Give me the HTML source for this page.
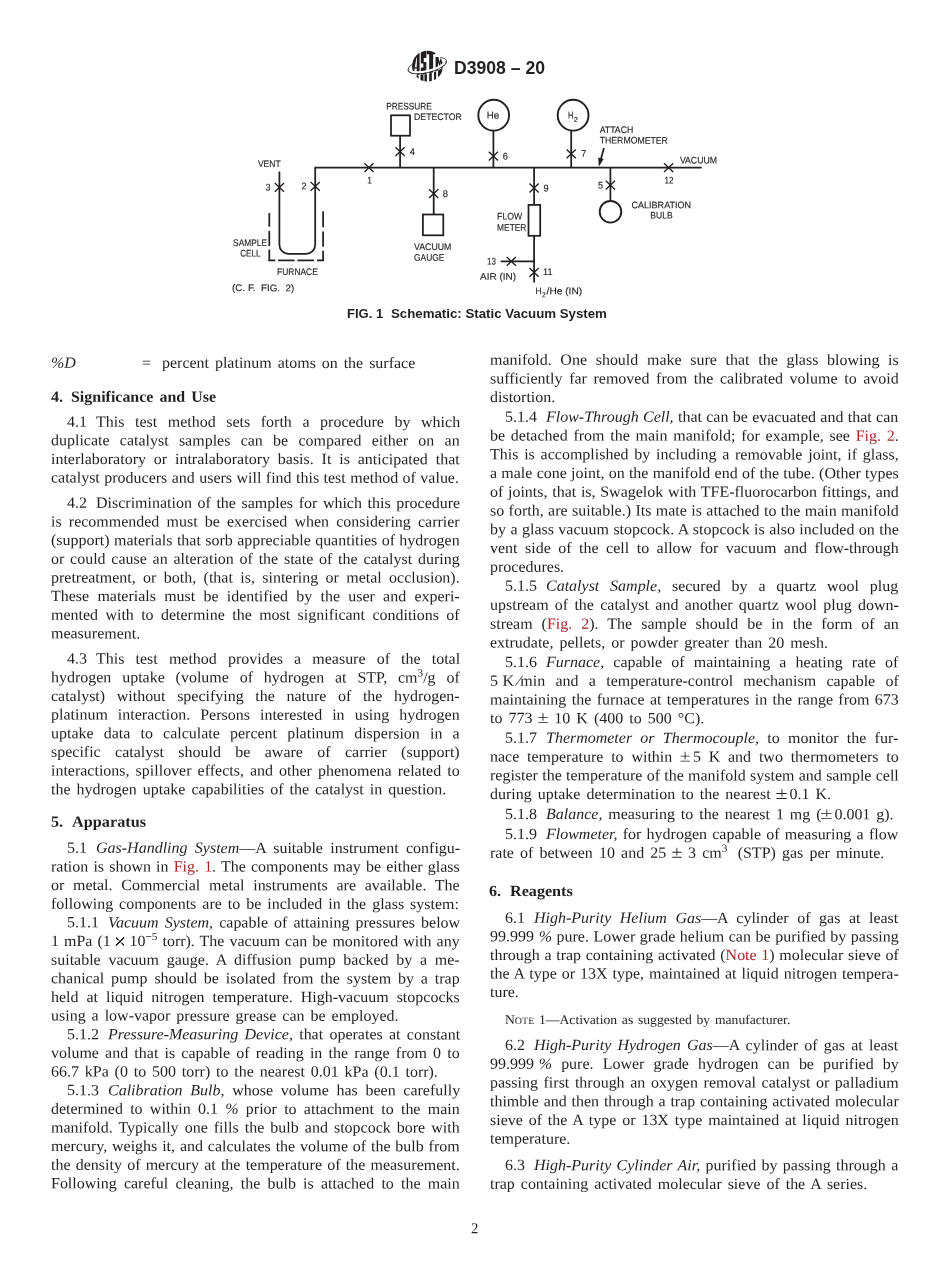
<!DOCTYPE html>
<html lang="en"><head><meta charset="utf-8"><title>D3908 - 20</title>
<style>
html,body{margin:0;padding:0;background:#fff;}
body{width:950px;height:1272px;position:relative;overflow:hidden;font-family:"Liberation Serif",serif;color:#231f20;}
.l{position:absolute;height:20px;line-height:20px;font-size:15.52px;white-space:nowrap;text-align:justify;text-align-last:justify;transform-origin:0 0;}
.l.nj{text-align:left;text-align-last:left;}
.l.b{font-weight:bold;}
.l.note{font-size:13.25px;}
.sc{font-size:9.7px;}
.r{color:#a4262c;}
.sup{font-size:10.9px;position:relative;top:-5.9px;line-height:0;}
.sp{display:inline-block;height:1px;}
.fs{margin:0 0 0 3.5px;}
.tm{display:inline-block;overflow:hidden;width:8.4px;height:8.4px;font-size:0;vertical-align:0.3px;background:linear-gradient(45deg,transparent calc(50% - 0.5px),#231f20 calc(50% - 0.5px),#231f20 calc(50% + 0.5px),transparent calc(50% + 0.5px)),linear-gradient(-45deg,transparent calc(50% - 0.5px),#231f20 calc(50% - 0.5px),#231f20 calc(50% + 0.5px),transparent calc(50% + 0.5px));}
.pm{display:inline-block;overflow:hidden;width:9.3px;height:9.7px;font-size:0;vertical-align:baseline;background:linear-gradient(#231f20,#231f20) 0 3.8px/100% 0.9px no-repeat,linear-gradient(#231f20,#231f20) 4.2px 0/0.9px 7.6px no-repeat,linear-gradient(#231f20,#231f20) 0 8.7px/100% 0.9px no-repeat;}
i{font-style:italic;}
#pg{position:absolute;left:0;top:0;width:950px;height:1272px;will-change:transform;}
svg{position:absolute;left:0;top:0;}
svg text{font-family:"Liberation Sans",sans-serif;fill:#231f20;}
.hd{position:absolute;font-family:"Liberation Sans",sans-serif;font-weight:bold;color:#231f20;white-space:nowrap;}
</style></head>
<body>
<div id="pg">
<svg width="950" height="1272" viewBox="0 0 950 1272">
<g fill="none" stroke="#231f20" stroke-width="1.75" stroke-linecap="butt">
<path d="M314.5,167.7 H701.7"/>
<path d="M315.2,167.7 V244.8 a9,9 0 0 1 -9,9 H288.4 a9,9 0 0 1 -9,-9 V171.4"/>
<path d="M400.1,167.7 V135.7"/><rect x="391" y="115.3" width="19" height="20.4"/>
<path d="M433.7,167.7 V214.5"/><rect x="422.9" y="214.5" width="20.4" height="20.8"/>
<path d="M493.4,167.7 V130.7"/><circle cx="493.7" cy="115.2" r="15.4" stroke-width="1.9"/>
<path d="M571.2,167.7 V130.5"/><circle cx="573.1" cy="115.2" r="15.4" stroke-width="1.9"/>
<path d="M534.1,167.7 V204.9 M534.1,235.8 V282.6"/><rect x="528.5" y="204.9" width="11.7" height="30.9"/>
<path d="M500.7,261.4 H534.1"/>
<path d="M610.4,167.7 V200.5"/><circle cx="610.5" cy="211.8" r="10.8" stroke-width="1.9"/>
<path d="M269.3,213.1 V226.7"/><path d="M269.3,230.8 V246.1"/><path d="M269.3,249.6 V261"/><path d="M323.1,211.3 V227.2"/><path d="M323.1,231.4 V246.7"/><path d="M323.1,250.8 V261"/><path d="M268.6,260.4 H275.3"/><path d="M278.1,260.4 H294.6"/><path d="M297.5,260.4 H314"/><path d="M317,260.4 H323.8"/>
<path d="M603.9,148.1 L600.4,161"/>
</g>
<path d="M598.8,166.8 L598.2,157.6 L603.6,159.1 Z" fill="#231f20"/>
<g fill="none" stroke="#231f20" stroke-width="1.35">
<path d="M274.8,182.9 L284,191.7 M274.8,191.7 L284,182.9"/><path d="M310.6,181.9 L319.8,190.7 M310.6,190.7 L319.8,181.9"/><path d="M364.4,163.3 L373.6,172.1 M364.4,172.1 L373.6,163.3"/><path d="M395.5,147.2 L404.7,156 M395.5,156 L404.7,147.2"/><path d="M429.1,189.2 L438.3,198 M429.1,198 L438.3,189.2"/><path d="M488.8,151.8 L498,160.6 M488.8,160.6 L498,151.8"/><path d="M566.6,149.5 L575.8,158.3 M566.6,158.3 L575.8,149.5"/><path d="M529.5,183.6 L538.7,192.4 M529.5,192.4 L538.7,183.6"/><path d="M605.8,180.8 L615,189.6 M605.8,189.6 L615,180.8"/><path d="M664,163.3 L673.2,172.1 M664,172.1 L673.2,163.3"/><path d="M506.7,257 L515.9,265.8 M506.7,265.8 L515.9,257"/><path d="M529.5,267.9 L538.7,276.7 M529.5,276.7 L538.7,267.9"/>
</g>
<text xml:space="preserve" x="386.2" y="109.5" transform="rotate(0.05 386.2 109.5)" font-size="9.55" textLength="45.6" lengthAdjust="spacingAndGlyphs" stroke="#231f20" stroke-width="0.15">PRESSURE</text>
<text xml:space="preserve" x="414.1" y="119.9" transform="rotate(0.05 414.1 119.9)" font-size="9.55" textLength="47.6" lengthAdjust="spacingAndGlyphs" stroke="#231f20" stroke-width="0.15">DETECTOR</text>
<text xml:space="preserve" x="257.9" y="167.1" transform="rotate(0.05 257.9 167.1)" font-size="9.55" textLength="22.7" lengthAdjust="spacingAndGlyphs" stroke="#231f20" stroke-width="0.15">VENT</text>
<text xml:space="preserve" x="265.5" y="190.6" transform="rotate(0.05 265.5 190.6)" font-size="9.55" textLength="5" lengthAdjust="spacingAndGlyphs" stroke="#231f20" stroke-width="0.15">3</text>
<text xml:space="preserve" x="301.4" y="189.3" transform="rotate(0.05 301.4 189.3)" font-size="9.55" textLength="5" lengthAdjust="spacingAndGlyphs" stroke="#231f20" stroke-width="0.15">2</text>
<text xml:space="preserve" x="367.3" y="183.5" transform="rotate(0.05 367.3 183.5)" font-size="9.55" textLength="4.7" lengthAdjust="spacingAndGlyphs" stroke="#231f20" stroke-width="0.15">1</text>
<text xml:space="preserve" x="409.8" y="154.9" transform="rotate(0.05 409.8 154.9)" font-size="9.55" textLength="5.2" lengthAdjust="spacingAndGlyphs" stroke="#231f20" stroke-width="0.15">4</text>
<text xml:space="preserve" x="442.8" y="196.9" transform="rotate(0.05 442.8 196.9)" font-size="9.55" textLength="5.2" lengthAdjust="spacingAndGlyphs" stroke="#231f20" stroke-width="0.15">8</text>
<text xml:space="preserve" x="233.1" y="246.1" transform="rotate(0.05 233.1 246.1)" font-size="9.55" textLength="33.9" lengthAdjust="spacingAndGlyphs" stroke="#231f20" stroke-width="0.15">SAMPLE</text>
<text xml:space="preserve" x="240.2" y="256.4" transform="rotate(0.05 240.2 256.4)" font-size="9.55" textLength="20.2" lengthAdjust="spacingAndGlyphs" stroke="#231f20" stroke-width="0.15">CELL</text>
<text xml:space="preserve" x="277.1" y="275.1" transform="rotate(0.05 277.1 275.1)" font-size="9.55" textLength="40.7" lengthAdjust="spacingAndGlyphs" stroke="#231f20" stroke-width="0.15">FURNACE</text>
<text xml:space="preserve" x="232.1" y="291.1" transform="rotate(0.05 232.1 291.1)" font-size="9.55" textLength="62.2" lengthAdjust="spacingAndGlyphs" stroke="#231f20" stroke-width="0.15">(C. F.  FIG.  2)</text>
<text xml:space="preserve" x="414" y="250.1" transform="rotate(0.05 414 250.1)" font-size="9.55" textLength="37.4" lengthAdjust="spacingAndGlyphs" stroke="#231f20" stroke-width="0.15">VACUUM</text>
<text xml:space="preserve" x="414" y="260.7" transform="rotate(0.05 414 260.7)" font-size="9.55" textLength="30.4" lengthAdjust="spacingAndGlyphs" stroke="#231f20" stroke-width="0.15">GAUGE</text>
<text xml:space="preserve" x="486.8" y="118.6" transform="rotate(0.05 486.8 118.6)" font-size="9.7" textLength="12.4" lengthAdjust="spacingAndGlyphs" stroke="#231f20" stroke-width="0.15">He</text>
<text xml:space="preserve" x="568.1" y="118.6" transform="rotate(0.05 568.1 118.6)" font-size="9.7" textLength="5.3" lengthAdjust="spacingAndGlyphs" stroke="#231f20" stroke-width="0.15">H</text>
<text xml:space="preserve" x="573.7" y="122.1" transform="rotate(0.05 573.7 122.1)" font-size="7.3" textLength="4.2" lengthAdjust="spacingAndGlyphs" stroke="#231f20" stroke-width="0.15">2</text>
<text xml:space="preserve" x="502.8" y="159.5" transform="rotate(0.05 502.8 159.5)" font-size="9.55" textLength="5.1" lengthAdjust="spacingAndGlyphs" stroke="#231f20" stroke-width="0.15">6</text>
<text xml:space="preserve" x="581.2" y="156.8" transform="rotate(0.05 581.2 156.8)" font-size="9.55" textLength="5" lengthAdjust="spacingAndGlyphs" stroke="#231f20" stroke-width="0.15">7</text>
<text xml:space="preserve" x="599.7" y="133" transform="rotate(0.05 599.7 133)" font-size="9.55" textLength="33.6" lengthAdjust="spacingAndGlyphs" stroke="#231f20" stroke-width="0.15">ATTACH</text>
<text xml:space="preserve" x="599.7" y="143.6" transform="rotate(0.05 599.7 143.6)" font-size="9.55" textLength="68.2" lengthAdjust="spacingAndGlyphs" stroke="#231f20" stroke-width="0.15">THERMOMETER</text>
<text xml:space="preserve" x="679.9" y="163.5" transform="rotate(0.05 679.9 163.5)" font-size="9.55" textLength="37.1" lengthAdjust="spacingAndGlyphs" stroke="#231f20" stroke-width="0.15">VACUUM</text>
<text xml:space="preserve" x="664.5" y="183.6" transform="rotate(0.05 664.5 183.6)" font-size="9.55" textLength="9" lengthAdjust="spacingAndGlyphs" stroke="#231f20" stroke-width="0.15">12</text>
<text xml:space="preserve" x="597.9" y="188.5" transform="rotate(0.05 597.9 188.5)" font-size="9.55" textLength="5.1" lengthAdjust="spacingAndGlyphs" stroke="#231f20" stroke-width="0.15">5</text>
<text xml:space="preserve" x="543.6" y="191.4" transform="rotate(0.05 543.6 191.4)" font-size="9.55" textLength="5.1" lengthAdjust="spacingAndGlyphs" stroke="#231f20" stroke-width="0.15">9</text>
<text xml:space="preserve" x="497.1" y="219.4" transform="rotate(0.05 497.1 219.4)" font-size="9.55" textLength="25" lengthAdjust="spacingAndGlyphs" stroke="#231f20" stroke-width="0.15">FLOW</text>
<text xml:space="preserve" x="497.1" y="230.7" transform="rotate(0.05 497.1 230.7)" font-size="9.55" textLength="29.3" lengthAdjust="spacingAndGlyphs" stroke="#231f20" stroke-width="0.15">METER</text>
<text xml:space="preserve" x="631.5" y="208.3" transform="rotate(0.05 631.5 208.3)" font-size="9.55" textLength="59.6" lengthAdjust="spacingAndGlyphs" stroke="#231f20" stroke-width="0.15">CALIBRATION</text>
<text xml:space="preserve" x="650.3" y="218.6" transform="rotate(0.05 650.3 218.6)" font-size="9.55" textLength="22.3" lengthAdjust="spacingAndGlyphs" stroke="#231f20" stroke-width="0.15">BULB</text>
<text xml:space="preserve" x="487.1" y="264.4" transform="rotate(0.05 487.1 264.4)" font-size="9.55" textLength="8.9" lengthAdjust="spacingAndGlyphs" stroke="#231f20" stroke-width="0.15">13</text>
<text xml:space="preserve" x="543.1" y="275.1" transform="rotate(0.05 543.1 275.1)" font-size="9.55" textLength="9.4" lengthAdjust="spacingAndGlyphs" stroke="#231f20" stroke-width="0.15">11</text>
<text xml:space="preserve" x="480" y="279.7" transform="rotate(0.05 480 279.7)" font-size="9.55" textLength="36" lengthAdjust="spacingAndGlyphs" stroke="#231f20" stroke-width="0.15">AIR (IN)</text>
<text xml:space="preserve" x="535.4" y="294.3" transform="rotate(0.05 535.4 294.3)" font-size="9.55" textLength="6.1" lengthAdjust="spacingAndGlyphs" stroke="#231f20" stroke-width="0.15">H</text>
<text xml:space="preserve" x="542.1" y="297.2" transform="rotate(0.05 542.1 297.2)" font-size="7.3" textLength="3.7" lengthAdjust="spacingAndGlyphs" stroke="#231f20" stroke-width="0.15">2</text>
<text xml:space="preserve" x="546.6" y="294.3" transform="rotate(0.05 546.6 294.3)" font-size="9.55" textLength="35.5" lengthAdjust="spacingAndGlyphs" stroke="#231f20" stroke-width="0.15">/He (IN)</text>
<g id="astm" transform="translate(404,48) scale(0.048421)">
<defs><clipPath id="gc"><circle cx="485" cy="375" r="318"/></clipPath></defs>
<g transform="rotate(-13.7 480 362)"><ellipse cx="480" cy="362" rx="408" ry="146" fill="none" stroke="#231f20" stroke-width="15"/></g>
<circle cx="485" cy="375" r="322" fill="#fff"/>
<g clip-path="url(#gc)" fill="#231f20">
<path d="M150,40 H322 V560 H150 Z M256,200 H268 L262,395 H224 Z M219,425 H262 V560 H208 Z" fill-rule="evenodd"/>
<path d="M347,40 H462 V205 H408 V290 H462 V560 H347 V405 H399 V320 H347 Z"/>
<path d="M470,40 H648 V128 H602 V560 H520 V128 H470 Z"/>
<path d="M652,185 H710 L736,292 L760,185 H850 V560 H764 V285 L746,368 H726 L702,285 V560 H652 Z"/>
</g>
<g transform="rotate(-13.7 480 362)"><path d="M848,392 A408,146 0 0 1 112,392" fill="none" stroke="#fff" stroke-width="46"/></g>
<g clip-path="url(#gc)">
<path d="M120,760 L120,521.666 L140,531.475 L160,538.505 L180,543.651 L200,547.441 L220,550.165 L240,552.03 L260,553.141 L280,553.61 L300,553.486 L320,552.824 L340,551.674 L360,550.027 L380,547.966 L400,545.54 L420,542.696 L440,539.44 L460,535.781 L480,531.728 L500,527.292 L520,522.483 L540,517.315 L560,511.8 L580,505.745 L600,499.351 L620,492.635 L640,485.377 L660,477.568 L680,469.203 L700,460.283 L720,450.812 L740,440.522 L760,429.412 L780,417.204 L800,403.321 L820,388.098 L840,369.837 L860,346.128 L860,760 Z" fill="#fff"/>
<g fill="#231f20">
<path d="M258,563.071 L300,563.486 V720 H258 Z"/>
<path d="M340,556.674 L402,550.266 V720 H340 Z"/>
<path d="M422,547.378 L474,537.885 V720 H422 Z"/>
<path d="M520,527.483 L574,512.598 V720 H520 Z"/>
<path d="M620,497.635 L664,480.819 V720 H620 Z"/>
<path d="M702,464.482 L790,415.434 V720 H702 Z"/>
</g></g>
<g transform="rotate(-13.7 480 362)"><path d="M888,362 A408,146 0 0 1 72,362" fill="none" stroke="#231f20" stroke-width="15"/></g>
</g>
</svg>
<div class="hd" style="left:454px;top:57.6px;font-size:17.6px;line-height:20px;height:20px">D3908 – 20</div>
<div class="hd" style="left:346.6px;top:303.80px;width:34.10px;font-size:12.4px;line-height:20px;height:20px;text-align:justify;text-align-last:justify;transform-origin:0 0;transform:scaleX(1.05)">FIG. 1</div>
<div class="hd" style="left:391.0px;top:303.80px;width:199.07px;font-size:12.4px;line-height:20px;height:20px;text-align:justify;text-align-last:justify;transform-origin:0 0;transform:scaleX(1.07)">Schematic: Static Vacuum System</div>
<div class="l nj" style="left:51.4px;top:352px;width:27.8px;transform:translateY(0.80px) rotate(0.03deg) scaleX(1.03)"><i>%D</i></div>
<div class="l nj" style="left:141.9px;top:352px;width:9.8px;transform:translateY(0.80px) rotate(0.03deg) scaleX(1.03)">=</div>
<div class="l" style="left:162.3px;top:352px;width:245.9px;transform:translateY(0.80px) rotate(0.03deg) scaleX(1.03)">percent platinum atoms on the surface</div>
<div class="l b nj" style="left:51.4px;top:386px;width:17.9px;transform:translateY(0.80px) rotate(0.03deg) scaleX(1.04)">4.</div>
<div class="l b" style="left:71.4px;top:386px;width:141.2px;transform:translateY(0.80px) rotate(0.03deg) scaleX(1.028)">Significance and Use</div>
<div class="l" style="left:66.9px;top:411px;width:381.7px;transform:translateY(0.70px) rotate(0.03deg) scaleX(1.03)">4.1<span class="sp" style="width:8.8px"></span>This test method sets forth a procedure by which</div>
<div class="l" style="left:51.4px;top:430px;width:396.8px;transform:translateY(0.33px) rotate(0.03deg) scaleX(1.03)">duplicate catalyst samples can be compared either on an</div>
<div class="l" style="left:51.4px;top:448px;width:396.8px;transform:translateY(0.96px) rotate(0.03deg) scaleX(1.03)">interlaboratory or intralaboratory basis. It is anticipated that</div>
<div class="l" style="left:51.4px;top:467px;width:396.1px;transform:translateY(0.59px) rotate(0.03deg) scaleX(1.03)">catalyst producers and users will find this test method of value.</div>
<div class="l" style="left:66.9px;top:492px;width:381.7px;transform:translateY(0.80px) rotate(0.03deg) scaleX(1.03)">4.2<span class="sp" style="width:8.8px"></span>Discrimination of the samples for which this procedure</div>
<div class="l" style="left:51.4px;top:511px;width:396.8px;transform:translateY(0.45px) rotate(0.03deg) scaleX(1.03)">is recommended must be exercised when considering carrier</div>
<div class="l" style="left:51.4px;top:530px;width:396.8px;transform:translateY(0.10px) rotate(0.03deg) scaleX(1.03)">(support) materials that sorb appreciable quantities of hydrogen</div>
<div class="l" style="left:51.4px;top:548px;width:396.8px;transform:translateY(0.75px) rotate(0.03deg) scaleX(1.03)">or could cause an alteration of the state of the catalyst during</div>
<div class="l" style="left:51.4px;top:567px;width:396.8px;transform:translateY(0.40px) rotate(0.03deg) scaleX(1.03)">pretreatment, or both, (that is, sintering or metal occlusion).</div>
<div class="l" style="left:51.4px;top:586px;width:396.8px;transform:translateY(0.05px) rotate(0.03deg) scaleX(1.03)">These materials must be identified by the user and experi-</div>
<div class="l" style="left:51.4px;top:604px;width:396.8px;transform:translateY(0.70px) rotate(0.03deg) scaleX(1.03)">mented with to determine the most significant conditions of</div>
<div class="l" style="left:51.4px;top:623px;width:86.5px;transform:translateY(0.35px) rotate(0.03deg) scaleX(1.03)">measurement.</div>
<div class="l" style="left:66.9px;top:648px;width:381.7px;transform:translateY(0.60px) rotate(0.03deg) scaleX(1.03)">4.3<span class="sp" style="width:8.8px"></span>This test method provides a measure of the total</div>
<div class="l" style="left:51.4px;top:667px;width:396.8px;transform:translateY(0.25px) rotate(0.03deg) scaleX(1.03)">hydrogen uptake (volume of hydrogen at STP, cm<span class="sup">3</span>/g of</div>
<div class="l" style="left:51.4px;top:685px;width:396.8px;transform:translateY(0.90px) rotate(0.03deg) scaleX(1.03)">catalyst) without specifying the nature of the hydrogen-</div>
<div class="l" style="left:51.4px;top:704px;width:396.8px;transform:translateY(0.55px) rotate(0.03deg) scaleX(1.03)">platinum interaction. Persons interested in using hydrogen</div>
<div class="l" style="left:51.4px;top:723px;width:396.8px;transform:translateY(0.20px) rotate(0.03deg) scaleX(1.03)">uptake data to calculate percent platinum dispersion in a</div>
<div class="l" style="left:51.4px;top:741px;width:396.8px;transform:translateY(0.85px) rotate(0.03deg) scaleX(1.03)">specific catalyst should be aware of carrier (support)</div>
<div class="l" style="left:51.4px;top:760px;width:396.8px;transform:translateY(0.50px) rotate(0.03deg) scaleX(1.03)">interactions, spillover effects, and other phenomena related to</div>
<div class="l" style="left:51.4px;top:779px;width:383.8px;transform:translateY(0.15px) rotate(0.03deg) scaleX(1.03)">the hydrogen uptake capabilities of the catalyst in question.</div>
<div class="l b nj" style="left:51.4px;top:811px;width:17.9px;transform:translateY(0.80px) rotate(0.03deg) scaleX(1.04)">5.</div>
<div class="l b nj" style="left:71.8px;top:811px;width:70.9px;transform:translateY(0.80px) rotate(0.03deg) scaleX(1.047)">Apparatus</div>
<div class="l" style="left:66.9px;top:837px;width:381.7px;transform:translateY(0.80px) rotate(0.03deg) scaleX(1.03)">5.1<span class="sp" style="width:8.8px"></span><i>Gas-Handling System</i>—A suitable instrument configu-</div>
<div class="l" style="left:51.4px;top:856px;width:396.8px;transform:translateY(0.44px) rotate(0.03deg) scaleX(1.03)">ration is shown in <span class="r">Fig. 1</span>. The components may be either glass</div>
<div class="l" style="left:51.4px;top:875px;width:396.8px;transform:translateY(0.08px) rotate(0.03deg) scaleX(1.03)">or metal. Commercial metal instruments are available. The</div>
<div class="l" style="left:51.4px;top:893px;width:396.1px;transform:translateY(0.72px) rotate(0.03deg) scaleX(1.03)">following components are to be included in the glass system:</div>
<div class="l" style="left:66.9px;top:912px;width:381.7px;transform:translateY(0.36px) rotate(0.03deg) scaleX(1.03)">5.1.1<span class="sp" style="width:8.8px"></span><i>Vacuum System,</i> capable of attaining pressures below</div>
<div class="l" style="left:51.4px;top:930px;width:396.8px;transform:translateY(1.00px) rotate(0.03deg) scaleX(1.03)">1 mPa (1 <span class="tm">×</span> 10<span class="sup">−5</span> torr). The vacuum can be monitored with any</div>
<div class="l" style="left:51.4px;top:949px;width:396.8px;transform:translateY(0.64px) rotate(0.03deg) scaleX(1.03)">suitable vacuum gauge. A diffusion pump backed by a me-</div>
<div class="l" style="left:51.4px;top:968px;width:396.8px;transform:translateY(0.28px) rotate(0.03deg) scaleX(1.03)">chanical pump should be isolated from the system by a trap</div>
<div class="l" style="left:51.4px;top:986px;width:396.8px;transform:translateY(0.92px) rotate(0.03deg) scaleX(1.03)">held at liquid nitrogen temperature. High-vacuum stopcocks</div>
<div class="l" style="left:51.4px;top:1005px;width:337.5px;transform:translateY(0.56px) rotate(0.03deg) scaleX(1.03)">using a low-vapor pressure grease can be employed.</div>
<div class="l" style="left:66.9px;top:1024px;width:381.7px;transform:translateY(0.20px) rotate(0.03deg) scaleX(1.03)">5.1.2<span class="sp" style="width:8.8px"></span><i>Pressure-Measuring Device,</i> that operates at constant</div>
<div class="l" style="left:51.4px;top:1042px;width:396.8px;transform:translateY(0.84px) rotate(0.03deg) scaleX(1.03)">volume and that is capable of reading in the range from 0 to</div>
<div class="l" style="left:51.4px;top:1061px;width:375.6px;transform:translateY(0.48px) rotate(0.03deg) scaleX(1.03)">66.7 kPa (0 to 500 torr) to the nearest 0.01 kPa (0.1 torr).</div>
<div class="l" style="left:66.9px;top:1080px;width:381.7px;transform:translateY(0.12px) rotate(0.03deg) scaleX(1.03)">5.1.3<span class="sp" style="width:8.8px"></span><i>Calibration Bulb,</i> whose volume has been carefully</div>
<div class="l" style="left:51.4px;top:1098px;width:396.8px;transform:translateY(0.76px) rotate(0.03deg) scaleX(1.03)">determined to within 0.1 <i>%</i> prior to attachment to the main</div>
<div class="l" style="left:51.4px;top:1117px;width:396.8px;transform:translateY(0.40px) rotate(0.03deg) scaleX(1.03)">manifold. Typically one fills the bulb and stopcock bore with</div>
<div class="l" style="left:51.4px;top:1136px;width:396.8px;transform:translateY(0.04px) rotate(0.03deg) scaleX(1.03)">mercury, weighs it, and calculates the volume of the bulb from</div>
<div class="l" style="left:51.4px;top:1154px;width:396.8px;transform:translateY(0.68px) rotate(0.03deg) scaleX(1.03)">the density of mercury at the temperature of the measurement.</div>
<div class="l" style="left:51.4px;top:1173px;width:396.8px;transform:translateY(0.32px) rotate(0.03deg) scaleX(1.03)">Following careful cleaning, the bulb is attached to the main</div>
<div class="l" style="left:489.5px;top:349px;width:396.9px;transform:translateY(0.70px) rotate(0.03deg) scaleX(1.03)">manifold. One should make sure that the glass blowing is</div>
<div class="l" style="left:489.5px;top:368px;width:396.9px;transform:translateY(0.40px) rotate(0.03deg) scaleX(1.03)">sufficiently far removed from the calibrated volume to avoid</div>
<div class="l" style="left:489.5px;top:387px;width:64.1px;transform:translateY(0.00px) rotate(0.03deg) scaleX(1.03)">distortion.</div>
<div class="l" style="left:505.0px;top:406px;width:381.8px;transform:translateY(0.75px) rotate(0.03deg) scaleX(1.03)">5.1.4<span class="sp" style="width:8.8px"></span><i>Flow-Through Cell,</i> that can be evacuated and that can</div>
<div class="l" style="left:489.5px;top:425px;width:396.9px;transform:translateY(0.50px) rotate(0.03deg) scaleX(1.03)">be detached from the main manifold; for example, see <span class="r">Fig. 2</span>.</div>
<div class="l" style="left:489.5px;top:444px;width:396.9px;transform:translateY(0.25px) rotate(0.03deg) scaleX(1.03)">This is accomplished by including a removable joint, if glass,</div>
<div class="l" style="left:489.5px;top:463px;width:396.9px;transform:translateY(0.00px) rotate(0.03deg) scaleX(1.03)">a male cone joint, on the manifold end of the tube. (Other types</div>
<div class="l" style="left:489.5px;top:481px;width:396.9px;transform:translateY(0.70px) rotate(0.03deg) scaleX(1.03)">of joints, that is, Swagelok with TFE-fluorocarbon fittings, and</div>
<div class="l" style="left:489.5px;top:500px;width:396.9px;transform:translateY(0.50px) rotate(0.03deg) scaleX(1.03)">so forth, are suitable.) Its mate is attached to the main manifold</div>
<div class="l" style="left:489.5px;top:519px;width:396.9px;transform:translateY(0.20px) rotate(0.03deg) scaleX(1.03)">by a glass vacuum stopcock. A stopcock is also included on the</div>
<div class="l" style="left:489.5px;top:537px;width:396.9px;transform:translateY(0.90px) rotate(0.03deg) scaleX(1.03)">vent side of the cell to allow for vacuum and flow-through</div>
<div class="l" style="left:489.5px;top:556px;width:73.1px;transform:translateY(0.65px) rotate(0.03deg) scaleX(1.03)">procedures.</div>
<div class="l" style="left:505.0px;top:575px;width:381.8px;transform:translateY(0.80px) rotate(0.03deg) scaleX(1.03)">5.1.5<span class="sp" style="width:8.8px"></span><i>Catalyst Sample,</i> secured by a quartz wool plug</div>
<div class="l" style="left:489.5px;top:594px;width:396.9px;transform:translateY(0.70px) rotate(0.03deg) scaleX(1.03)">upstream of the catalyst and another quartz wool plug down-</div>
<div class="l" style="left:489.5px;top:613px;width:396.9px;transform:translateY(0.70px) rotate(0.03deg) scaleX(1.03)">stream (<span class="r">Fig. 2</span>). The sample should be in the form of an</div>
<div class="l" style="left:489.5px;top:632px;width:328.1px;transform:translateY(0.50px) rotate(0.03deg) scaleX(1.03)">extrudate, pellets, or powder greater than 20 mesh.</div>
<div class="l" style="left:505.0px;top:652px;width:381.8px;transform:translateY(0.00px) rotate(0.03deg) scaleX(1.03)">5.1.6<span class="sp" style="width:8.8px"></span><i>Furnace,</i> capable of maintaining a heating rate of</div>
<div class="l" style="left:489.5px;top:670px;width:396.9px;transform:translateY(0.70px) rotate(0.03deg) scaleX(1.03)">5<span class="sp" style="width:4.4px"></span>K<span class="fs">⁄</span>min and a temperature-control mechanism capable of</div>
<div class="l" style="left:489.5px;top:689px;width:396.9px;transform:translateY(0.40px) rotate(0.03deg) scaleX(1.03)">maintaining the furnace at temperatures in the range from 673</div>
<div class="l" style="left:489.5px;top:708px;width:208.0px;transform:translateY(0.10px) rotate(0.03deg) scaleX(1.03)">to 773 <span class="pm">±</span> 10 K (400 to 500 °C).</div>
<div class="l" style="left:505.0px;top:727px;width:381.8px;transform:translateY(0.80px) rotate(0.03deg) scaleX(1.03)">5.1.7<span class="sp" style="width:8.8px"></span><i>Thermometer or Thermocouple,</i> to monitor the fur-</div>
<div class="l" style="left:489.5px;top:746px;width:396.9px;transform:translateY(0.60px) rotate(0.03deg) scaleX(1.03)">nace temperature to within <span class="pm">±</span><span class="sp" style="width:3.2px"></span>5 K and two thermometers to</div>
<div class="l" style="left:489.5px;top:765px;width:396.9px;transform:translateY(0.30px) rotate(0.03deg) scaleX(1.03)">register the temperature of the manifold system and sample cell</div>
<div class="l" style="left:489.5px;top:783px;width:331.2px;transform:translateY(0.90px) rotate(0.03deg) scaleX(1.03)">during uptake determination to the nearest <span class="pm">±</span><span class="sp" style="width:3.2px"></span>0.1 K.</div>
<div class="l" style="left:505.0px;top:804px;width:377.3px;transform:translateY(0.00px) rotate(0.03deg) scaleX(1.03)">5.1.8<span class="sp" style="width:8.8px"></span><i>Balance,</i> measuring to the nearest 1 mg (<span class="pm">±</span><span class="sp" style="width:3.2px"></span>0.001 g).</div>
<div class="l" style="left:505.0px;top:824px;width:381.8px;transform:translateY(0.00px) rotate(0.03deg) scaleX(1.03)">5.1.9<span class="sp" style="width:8.8px"></span><i>Flowmeter,</i> for hydrogen capable of measuring a flow</div>
<div class="l" style="left:489.5px;top:842px;width:382.9px;transform:translateY(0.70px) rotate(0.03deg) scaleX(1.03)">rate of between 10 and 25 <span class="pm">±</span> 3 cm<span class="sup">3</span><span class="sp" style="width:4px"></span> (STP) gas per minute.</div>
<div class="l b nj" style="left:489.1px;top:881px;width:20.1px;transform:translateY(0.00px) rotate(0.03deg) scaleX(1.04)">6.</div>
<div class="l b nj" style="left:510.1px;top:881px;width:61.0px;transform:translateY(0.00px) rotate(0.03deg) scaleX(1.04)">Reagents</div>
<div class="l" style="left:505.0px;top:907px;width:381.8px;transform:translateY(0.80px) rotate(0.03deg) scaleX(1.03)">6.1<span class="sp" style="width:8.8px"></span><i>High-Purity Helium Gas</i>—A cylinder of gas at least</div>
<div class="l" style="left:489.5px;top:926px;width:396.9px;transform:translateY(0.35px) rotate(0.03deg) scaleX(1.03)">99.999<span class="sp" style="width:4.6px"></span><i>%</i> pure. Lower grade helium can be purified by passing</div>
<div class="l" style="left:489.5px;top:944px;width:396.9px;transform:translateY(0.90px) rotate(0.03deg) scaleX(1.03)">through a trap containing activated (<span class="r">Note 1</span>) molecular sieve of</div>
<div class="l" style="left:489.5px;top:963px;width:396.9px;transform:translateY(0.45px) rotate(0.03deg) scaleX(1.03)">the A type or 13X type, maintained at liquid nitrogen tempera-</div>
<div class="l" style="left:489.5px;top:982px;width:27.7px;transform:translateY(0.00px) rotate(0.03deg) scaleX(1.03)">ture.</div>
<div class="l note" style="left:505.0px;top:1009px;width:277.0px;transform:translateY(0.90px) rotate(0.03deg) scaleX(1.03)">N<span class="sc">OTE</span> 1—Activation as suggested by manufacturer.</div>
<div class="l" style="left:505.0px;top:1035px;width:381.8px;transform:translateY(0.00px) rotate(0.03deg) scaleX(1.03)">6.2<span class="sp" style="width:8.8px"></span><i>High-Purity Hydrogen Gas</i>—A cylinder of gas at least</div>
<div class="l" style="left:489.5px;top:1053px;width:396.9px;transform:translateY(0.72px) rotate(0.03deg) scaleX(1.03)">99.999<span class="sp" style="width:4.6px"></span><i>%</i> pure. Lower grade hydrogen can be purified by</div>
<div class="l" style="left:489.5px;top:1072px;width:396.9px;transform:translateY(0.44px) rotate(0.03deg) scaleX(1.03)">passing first through an oxygen removal catalyst or palladium</div>
<div class="l" style="left:489.5px;top:1091px;width:396.9px;transform:translateY(0.16px) rotate(0.03deg) scaleX(1.03)">thimble and then through a trap containing activated molecular</div>
<div class="l" style="left:489.5px;top:1109px;width:396.9px;transform:translateY(0.88px) rotate(0.03deg) scaleX(1.03)">sieve of the A type or 13X type maintained at liquid nitrogen</div>
<div class="l" style="left:489.5px;top:1128px;width:78.4px;transform:translateY(0.60px) rotate(0.03deg) scaleX(1.03)">temperature.</div>
<div class="l" style="left:505.0px;top:1155px;width:381.8px;transform:translateY(0.10px) rotate(0.03deg) scaleX(1.03)">6.3<span class="sp" style="width:8.8px"></span><i>High-Purity Cylinder Air,</i> purified by passing through a</div>
<div class="l" style="left:489.5px;top:1173px;width:366.3px;transform:translateY(0.80px) rotate(0.03deg) scaleX(1.03)">trap containing activated molecular sieve of the A series.</div>
<div class="l nj" style="left:471.4px;top:1218px;width:20px;font-size:15.3px;transform:translateY(0.30px) rotate(0.03deg) scaleX(0.96)">2</div>
</div>
</body></html>
